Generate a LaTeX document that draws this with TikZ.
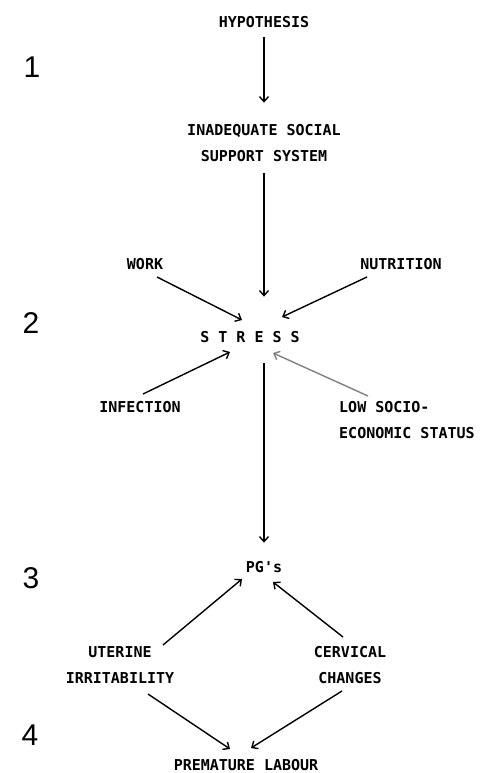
\documentclass[tikz,border=0pt]{standalone}
\usepackage{fontspec}
\setmonofont{DejaVu Sans Mono}
\newfontfamily\numfont{Liberation Sans}
\usetikzlibrary{arrows.meta}

\tikzset{
  lbl/.style={font=\ttfamily\bfseries\fontsize{15}{26}\selectfont, inner sep=3pt, align=center},
  lvl/.style={font=\numfont\fontsize{30}{30}\selectfont, inner sep=0pt},
  arr/.style={line width=1.4pt, -{Straight Barb[length=5pt,width=9pt]}},
}

\begin{document}
\begin{tikzpicture}[x=1pt,y=-1pt]
    \useasboundingbox (0,0) rectangle (481,773);
    % level numbers
    \node[lvl] (n1) at (32,67) {1};
    \node[lvl] (n2) at (31,323) {2};
    \node[lvl] (n3) at (31,578) {3};
    \node[lvl] (n4) at (30,735) {4};
    % level 1
    \node[lbl] (hyp) at (264,22) {HYPOTHESIS};
    \node[lbl] (iss) at (264,143) {INADEQUATE SOCIAL\\SUPPORT SYSTEM};
    % level 2
    \node[lbl] (stress) at (250,337) {S T R E S S};
    \node[lbl] (work) at (145,264) {WORK};
    \node[lbl] (nutr) at (401,264) {NUTRITION};
    \node[lbl] (inf) at (140,407) {INFECTION};
    \node[lbl, align=left, anchor=north west] (lses) at (336,398.5) {LOW SOCIO-\\ECONOMIC STATUS};
    % level 3 and 4
    \node[lbl] (pgs) at (264,567) {PG's};
    \node[lbl] (uter) at (120,665) {UTERINE\\IRRITABILITY};
    \node[lbl] (cerv) at (350,665) {CERVICAL\\CHANGES};
    \node[lbl] (prem) at (246,765) {PREMATURE LABOUR};

    \draw[arr, shorten <=6.5pt, shorten >=18.5pt] (hyp.south) -- (iss.north);
    \draw[arr, shorten <=8.5pt, shorten >=31.5pt] (iss.south) -- (iss.south |- stress.north);
    \draw[arr] ([shift={(12,13)}]work.center) -- ([shift={(-8,-17)}]stress.center);
    \draw[arr] ([shift={(-34,13)}]nutr.center) -- ([shift={(32,-20)}]stress.center);
    \draw[arr] ([shift={(3,-13)}]inf.center) -- ([shift={(-20,15)}]stress.center);
    \draw[arr, gray] ([shift={(32,-2.5)}]lses.north west) -- ([shift={(23,16)}]stress.center);
    \draw[arr, shorten <=17.5pt, shorten >=15.5pt] (pgs.north |- stress.south) -- (pgs.north);
    \draw[arr] ([shift={(43,-20)}]uter.center) -- ([shift={(-22,12)}]pgs.center);
    \draw[arr] ([shift={(-7,-28)}]cerv.center) -- ([shift={(9,15)}]pgs.center);
    \draw[arr] ([shift={(28,29)}]uter.center) -- ([shift={(-16,-16)}]prem.center);
    \draw[arr] ([shift={(-8,26)}]cerv.center) -- ([shift={(5,-17)}]prem.center);
\end{tikzpicture}
\end{document}
